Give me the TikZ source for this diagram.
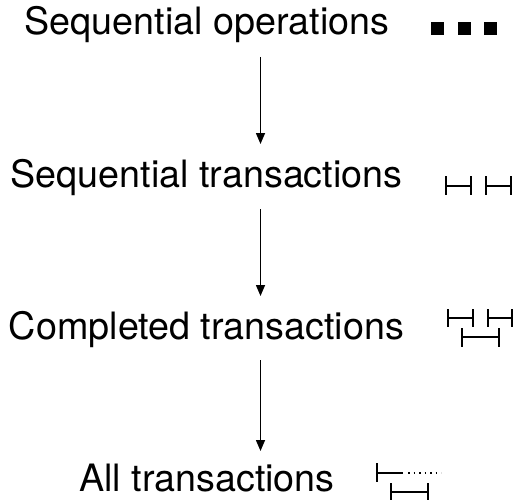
\documentclass[tikz,border=0pt]{standalone}
\usepackage{fontspec}
\setmainfont{TeX Gyre Heros}
\usetikzlibrary{arrows.meta}
\begin{document}
\begin{tikzpicture}[x=1pt,y=-1pt,
  lbl/.style={anchor=base,inner sep=0pt,font=\fontsize{37.7}{45}\selectfont},
  arr/.style={line width=1.5pt,-{Triangle[length=11pt,width=9pt]}},
  ival/.style={line width=2.2pt},
  sq/.style={fill=black}]
\useasboundingbox (0,0) rectangle (516,500);
% labels
\node[lbl] (t1) at (207,35) {Sequential operations};
\node[lbl] (t2) at (206.5,187) {Sequential transactions};
\node[lbl] (t3) at (206.5,339) {Completed transactions};
\node[lbl] (t4) at (207,491) {All transactions};
% arrow ends
\coordinate (a1s) at (260.5,57);  \coordinate (a1e) at (260.5,144);
\coordinate (a2s) at (260.5,209); \coordinate (a2e) at (260.5,296);
\coordinate (a3s) at (260.5,360); \coordinate (a3e) at (260.5,451);
\draw[arr] (a1s) -- (a1e);
\draw[arr] (a2s) -- (a2e);
\draw[arr] (a3s) -- (a3e);
% row 1 icon: three squares
\fill[sq] (431,22) rectangle (444,35);
\fill[sq] (458,22) rectangle (471,35);
\fill[sq] (484,22) rectangle (497,35);
% row 2 icon: two sequential intervals
\draw[ival] (446,176) -- (446,195) (446,186) -- (471,186) (471,176) -- (471,195);
\draw[ival] (486,176) -- (486,195) (486,186) -- (511,186) (511,176) -- (511,195);
% row 3 icon
\draw[ival] (448,309) -- (448,327) (448,318) -- (473,318) (473,309) -- (473,327);
\draw[ival] (488,309) -- (488,327) (488,318) -- (512,318) (512,309) -- (512,327);
\draw[ival] (462,328) -- (462,347) (462,337) -- (499,337) (499,328) -- (499,347);
% row 4 icon
\draw[ival] (377,463) -- (377,482) (377,473) -- (403,473);
\draw[line width=1.5pt,dash pattern=on 1.5pt off 4pt] (408,473) -- (441,473);
\draw[ival] (391,483) -- (391,500) (391,492) -- (428,492) (428,483) -- (428,500);
\end{tikzpicture}
\end{document}
